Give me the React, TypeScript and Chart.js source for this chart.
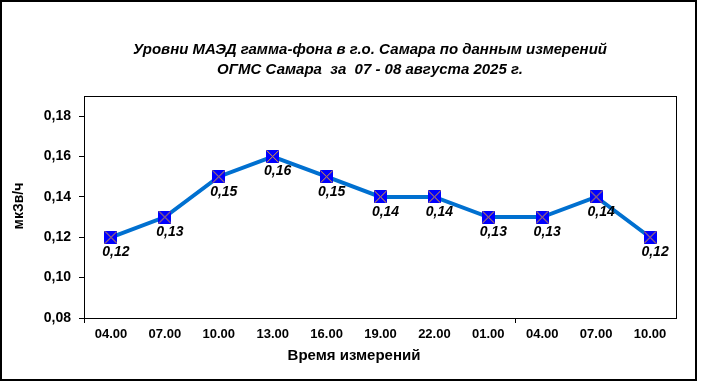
import React, { useEffect, useRef } from "react";
import { Chart, registerables } from "chart.js";

Chart.register(...registerables);

const categories = ["04.00", "07.00", "10.00", "13.00", "16.00", "19.00", "22.00", "01.00", "04.00", "07.00", "10.00"];
const values = [0.12, 0.13, 0.15, 0.16, 0.15, 0.14, 0.14, 0.13, 0.13, 0.14, 0.12];
const yTicks = [0.08, 0.1, 0.12, 0.14, 0.16, 0.18];
const titleLines = ["Уровни МАЭД гамма-фона в г.о. Самара по данным измерений", "ОГМС Самара  за  07 - 08 августа 2025 г."];
const yTitle = "мкЗв/ч";
const xTitle = "Время измерений";
const dayBoundaries = [0, 8];

const FONT = "'Liberation Sans', Arial, sans-serif";

function makeMarker(): HTMLCanvasElement {
  const c = document.createElement("canvas");
  c.width = 13;
  c.height = 13;
  const g = c.getContext("2d")!;
  g.fillStyle = "#0000FF";
  g.fillRect(0, 0, 13, 13);
  g.strokeStyle = "#F5A623";
  g.lineWidth = 1;
  g.beginPath();
  g.moveTo(0.5, 0.5);
  g.lineTo(12.5, 12.5);
  g.moveTo(12.5, 0.5);
  g.lineTo(0.5, 12.5);
  g.stroke();
  return c;
}

const decor = {
  id: "decor",
  afterDraw(chart: any) {
    const ctx = chart.ctx;
    const a = chart.chartArea;
    ctx.save();
    // plot box
    ctx.strokeStyle = "#000";
    ctx.lineWidth = 1;
    ctx.strokeRect(a.left + 0.5, a.top + 0.5, a.right - a.left - 1, a.bottom - a.top);
    // outer border
    ctx.lineWidth = 2;
    ctx.strokeRect(1, 1, 695, 379);
    // title
    ctx.fillStyle = "#000";
    ctx.textAlign = "center";
    ctx.textBaseline = "middle";
    ctx.font = `italic bold 15px ${FONT}`;
    ctx.fillText(titleLines[0], 370, 50);
    ctx.fillText(titleLines[1], 370, 70);
    // axis titles
    ctx.font = `bold 15px ${FONT}`;
    ctx.fillText(xTitle, 354, 356);
    ctx.font = `bold 14px ${FONT}`;
    ctx.save();
    ctx.translate(19, 206);
    ctx.rotate(-Math.PI / 2);
    ctx.fillText(yTitle, 0, 0);
    ctx.restore();
    // data labels
    const meta = chart.getDatasetMeta(0);
    ctx.font = `italic bold 14px ${FONT}`;
    meta.data.forEach((pt: any, i: number) => {
      const label = values[i].toFixed(2).replace(".", ",");
      ctx.fillText(label, pt.x + 5, pt.y + 15);
    });
    ctx.restore();
  },
};

export default function App() {
  const ref = useRef<HTMLCanvasElement>(null);
  useEffect(() => {
    document.body.style.margin = "0";
    const marker = makeMarker();
    const chart = new Chart(ref.current!, {
      type: "line",
      data: {
        labels: categories,
        datasets: [
          {
            data: values,
            borderColor: "#0070D0",
            borderWidth: 4,
            pointStyle: marker as any,
            pointRadius: 7,
            fill: false,
            tension: 0,
          },
        ],
      },
      options: {
        animation: false,
        responsive: false,
        maintainAspectRatio: false,
        layout: { padding: { left: 0, top: 96, right: 24, bottom: 0 } },
        plugins: { legend: { display: false }, tooltip: { enabled: false }, title: { display: false } },
        scales: {
          x: {
            offset: true,
            border: { display: false },
            grid: {
              offset: true,
              drawOnChartArea: false,
              drawTicks: true,
              tickLength: 5,
              color: (c: any) => (dayBoundaries.includes(c.index) ? "#000" : "rgba(0,0,0,0)"),
            },
            ticks: {
              color: "#000",
              font: { family: FONT, size: 13, weight: "bold" },
              maxRotation: 0,
              autoSkip: false,
              padding: 4,
            },
            afterFit: (s: any) => {
              s.height = 65;
            },
          },
          y: {
            min: 0.08,
            max: 0.19,
            border: { display: false },
            grid: { drawOnChartArea: false, drawTicks: true, tickLength: 5, color: "#000" },
            ticks: {
              color: "#000",
              font: { family: FONT, size: 14, weight: "bold" },
              padding: 8,
              callback: (v: any) => Number(v).toFixed(2).replace(".", ","),
            },
            afterBuildTicks: (s: any) => {
              s.ticks = yTicks.map((v) => ({ value: v }));
            },
            afterFit: (s: any) => {
              s.width = 84;
            },
          },
        },
      },
      plugins: [decor],
    });
    return () => chart.destroy();
  }, []);
  return <canvas ref={ref} width={701} height={383} style={{ display: "block" }} />;
}
